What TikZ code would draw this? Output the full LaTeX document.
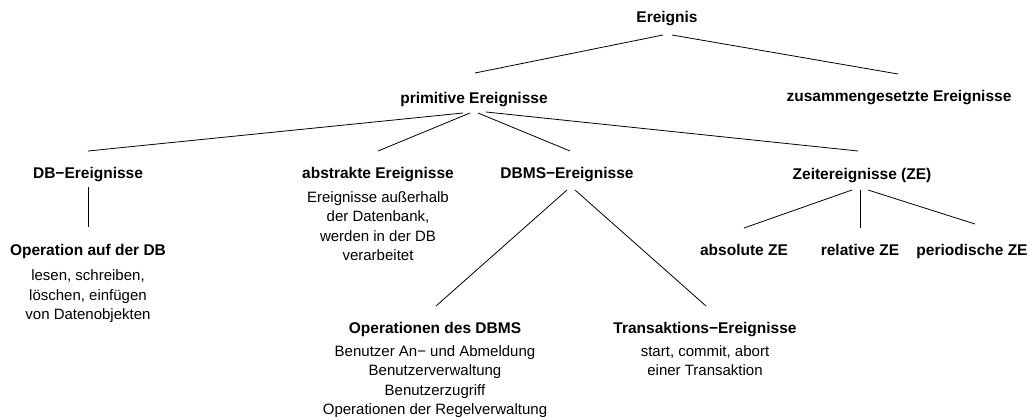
\documentclass[tikz,border=0pt]{standalone}
\usepackage{fontspec}
\setmainfont{Liberation Sans}
\begin{document}
\begin{tikzpicture}[x=1pt,y=-1pt,
  title/.style={anchor=base,inner sep=0pt,font=\fontsize{15.5}{19.5}\selectfont\bfseries},
  desc/.style={anchor=north,inner sep=0pt,align=center,font=\fontsize{15}{19.5}\selectfont},
  conn/.style={line width=0.8pt,black}]
\path[use as bounding box] (0,0) rectangle (1032,417);
% titles
\node[title] (ereignis) at (667,23) {Ereignis};
\node[title] (prim) at (474,103) {primitive Ereignisse};
\node[title] (zus) at (899,102) {zusammengesetzte Ereignisse};
\node[title] (db) at (88,178) {DB−Ereignisse};
\node[title] (abs) at (378,178) {abstrakte Ereignisse};
\node[title] (dbms) at (567,178) {DBMS−Ereignisse};
\node[title] (zeit) at (862,179) {Zeitereignisse (ZE)};
\node[title] (op) at (88,255) {Operation auf der DB};
\node[title] (absze) at (744,255) {absolute ZE};
\node[title] (relze) at (860,255) {relative ZE};
\node[title] (perze) at (972,255) {periodische ZE};
\node[title] (opdbms) at (435,333) {Operationen des DBMS};
\node[title] (ta) at (705,333) {Transaktions−Ereignisse};
% descriptions
\node[desc] (absdesc) at (378,191) {Ereignisse außerhalb\\der Datenbank,\\werden in der DB\\verarbeitet};
\node[desc] (opdesc) at (88,269.5) {lesen, schreiben,\\löschen, einfügen\\von Datenobjekten};
\node[desc] (opdbmsdesc) at (435,345) {Benutzer An− und Abmeldung\\Benutzerverwaltung\\Benutzerzugriff\\Operationen der Regelverwaltung};
\node[desc] (tadesc) at (705,345) {start, commit, abort\\einer Transaktion};
% connectors
\draw[conn] ([shift={(-4,12)}]ereignis.base) -- ([shift={(1,-30)}]prim.base);
\draw[conn] ([shift={(5,12)}]ereignis.base) -- ([shift={(-1,-28)}]zus.base);
\draw[conn] ([shift={(-11,10)}]prim.base) -- ([shift={(0,-27)}]db.base);
\draw[conn] ([shift={(-4,10)}]prim.base) -- ([shift={(0,-27)}]abs.base);
\draw[conn] ([shift={(4,10)}]prim.base) -- ([shift={(3,-27)}]dbms.base);
\draw[conn] ([shift={(12,9)}]prim.base) -- ([shift={(-4,-28)}]zeit.base);
\draw[conn] ([shift={(0,9)}]db.base) -- ([shift={(0,-28)}]op.base);
\draw[conn] ([shift={(0,12)}]dbms.base) -- ([shift={(1,-27)}]opdbms.base);
\draw[conn] ([shift={(8,12)}]dbms.base) -- ([shift={(1,-27)}]ta.base);
\draw[conn] ([shift={(-10,11)}]zeit.base) -- ([shift={(0,-27)}]absze.base);
\draw[conn] ([shift={(-2,11)}]zeit.base) -- ([shift={(0,-27)}]relze.base);
\draw[conn] ([shift={(6,11)}]zeit.base) -- ([shift={(3,-31)}]perze.base);
\end{tikzpicture}
\end{document}
